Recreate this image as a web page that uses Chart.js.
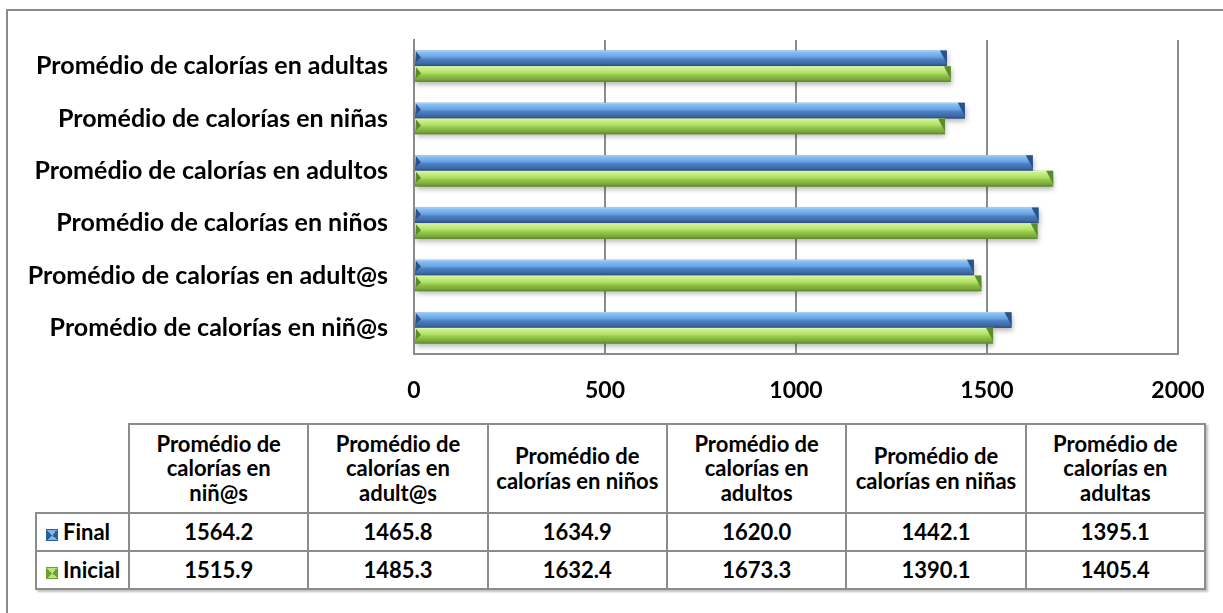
<!DOCTYPE html>
<html>
<head>
<meta charset="utf-8">
<script src="https://cdn.jsdelivr.net/npm/chart.js@4.4.1/dist/chart.umd.min.js"></script>
<style>
  html, body { margin: 0; padding: 0; background: #fff; overflow: hidden; }
  body { width: 1223px; height: 613px; position: relative; font-family: Lato, "Open Sans", sans-serif; }
  #frame { position: absolute; left: 6px; top: 9px; width: 1400px; height: 900px; border: 2px solid #8a8a8a; box-sizing: border-box; }
  #chartBox { position: absolute; left: 0; top: 0; width: 1223px; height: 410px; }
  #dataTable {
    position: absolute; left: 35px; top: 423px; width: 1171px;
    border-collapse: collapse; table-layout: fixed;
    font: 700 22px Lato, "Open Sans", sans-serif; color: #000;
    box-shadow: 2px 2px 2px rgba(0,0,0,0.25);
  }
  #dataTable td, #dataTable th { border: 2px solid #8c8c8c; text-align: center; padding: 0 4px; font-weight: 700; line-height: 24.5px; white-space: nowrap; }
  #dataTable th.corner { border-top: hidden; border-left: hidden; }
  #dataTable tr.head { height: 89px; }
  #dataTable tr.row { height: 38px; }
  #dataTable td.name { text-align: left; padding-left: 9px; }
  .key { display: inline-block; width: 12px; height: 12px; margin-right: 5px; vertical-align: -1px; box-sizing: border-box; }
</style>
</head>
<body>
<div id="frame"></div>
<div id="chartBox"><canvas id="chart" width="1223" height="410"></canvas></div>
<table id="dataTable"></table>
<script>
// Categories in table order (bottom to top in the bar chart)
const categories = [
  "Promédio de calorías en niñ@s",
  "Promédio de calorías en adult@s",
  "Promédio de calorías en niños",
  "Promédio de calorías en adultos",
  "Promédio de calorías en niñas",
  "Promédio de calorías en adultas"
];
const seriesNames = ["Final", "Inicial"];
const finalValues = [1564.2, 1465.8, 1634.9, 1620.0, 1442.1, 1395.1];
const inicialValues = [1515.9, 1485.3, 1632.4, 1673.3, 1390.1, 1405.4];
const xTicks = [0, 500, 1000, 1500, 2000];
// header cells whose last word drops onto a third line
const headerThreeLines = [true, true, false, true, false, true];

// Glossy vertical gradients for each series
const palettes = [
  { base: '#4b80c2',
    stops: [[0, '#b4dafc'], [0.1, '#8ac0f3'], [0.42, '#66a2e4'], [0.56, '#4b80c2'], [0.85, '#3d67a3'], [1, '#2b4c7c']],
    dark: '#2a5289', key: ['#2f5d9a', '#7db4ee'] },
  { base: '#95c94c',
    stops: [[0, '#e6fcc0'], [0.1, '#cbf28e'], [0.42, '#b0e166'], [0.56, '#95c94c'], [0.85, '#7aa73b'], [1, '#5a8528']],
    dark: '#5d8a2a', key: ['#6f9e33', '#b6e774'] }
];

const seriesValues = [finalValues, inicialValues];

// Repaints each bar drawn by Chart.js with a bevelled, glossy look
const glossyBars = {
  id: 'glossyBars',
  afterDatasetsDraw(chart) {
    const ctx = chart.ctx;
    chart.data.datasets.forEach((ds, i) => {
      chart.getDatasetMeta(i).data.forEach(el => {
        const top = el.y - el.height / 2, h = el.height;
        const left = Math.min(el.base, el.x), w = Math.abs(el.x - el.base);
        const g = ctx.createLinearGradient(0, top, 0, top + h);
        palettes[i].stops.forEach(([o, c]) => g.addColorStop(o, c));
        ctx.save();
        ctx.shadowColor = 'rgba(0,0,0,0.28)';
        ctx.shadowBlur = 5;
        ctx.shadowOffsetX = 1;
        ctx.shadowOffsetY = 3;
        ctx.fillStyle = g;
        ctx.fillRect(left, top, w, h);
        ctx.restore();

        ctx.save();
        ctx.fillStyle = palettes[i].dark;
        // bevelled end of the bar
        ctx.beginPath();
        ctx.moveTo(el.x - 7, top);
        ctx.lineTo(el.x, top);
        ctx.lineTo(el.x, top + h * 0.85);
        ctx.closePath();
        ctx.fill();
        // bevel at the start of the bar
        ctx.beginPath();
        ctx.moveTo(el.base + 1, top + 1);
        ctx.lineTo(el.base + 6, top + h * 0.45);
        ctx.lineTo(el.base + 1, top + h * 0.75);
        ctx.closePath();
        ctx.fill();
        ctx.restore();
      });
    });
  }
};

const yFont = { family: 'Lato', weight: 'bold', size: 25 };
const xFont = { family: 'Lato', weight: 'bold', size: 23 };

new Chart(document.getElementById('chart'), {
  type: 'bar',
  data: {
    labels: categories,
    datasets: seriesNames.map((name, i) => ({
      label: name,
      data: seriesValues[i],
      backgroundColor: palettes[i].base,
      borderWidth: 0,
      barPercentage: 1,
      categoryPercentage: 0.6
    }))
  },
  options: {
    indexAxis: 'y',
    responsive: false,
    animation: false,
    devicePixelRatio: 1,
    layout: { padding: { top: 40, right: 45, left: 0, bottom: 0 } },
    plugins: { legend: { display: false }, tooltip: { enabled: false } },
    scales: {
      x: {
        min: xTicks[0],
        max: xTicks[xTicks.length - 1],
        afterBuildTicks(scale) { scale.ticks = xTicks.map(v => ({ value: v })); },
        grid: { color: '#8c8c8c', lineWidth: 2, drawTicks: false },
        border: { display: true, color: '#8c8c8c', width: 2 },
        ticks: { font: xFont, color: '#000', padding: 23, callback: v => String(v) },
        afterFit(scale) {
          scale.height = 56;
          scale.paddingLeft = 0;
          scale.paddingRight = 0;
        }
      },
      y: {
        reverse: true,
        grid: { display: false },
        border: { display: true, color: '#8c8c8c', width: 2 },
        ticks: { font: yFont, color: '#000', padding: 18 },
        afterFit(scale) { scale.width = 414; }
      }
    }
  },
  plugins: [glossyBars]
});

// Data table under the chart
const table = document.getElementById('dataTable');
let html = '<colgroup><col style="width:93px">' + categories.map(() => '<col>').join('') + '</colgroup>';
html += '<tr class="head"><th class="corner"></th>' + categories.map((c, i) => {
  const words = c.split(' ');
  const first = words.slice(0, 2).join(' ');
  const rest = words.slice(2);
  const body = headerThreeLines[i]
    ? rest.slice(0, -1).join(' ') + '<br>' + rest[rest.length - 1]
    : rest.join(' ');
  return '<th>' + first + '<br>' + body + '</th>';
}).join('') + '</tr>';
seriesNames.forEach((name, i) => {
  const k = palettes[i].key;
  const keyStyle = 'background:conic-gradient(from 45deg,' + k[0] + ' 0 25%,' + k[1] + ' 0 50%,' + k[0] + ' 0 75%,' + k[1] + ' 0);border:1px solid ' + k[0];
  html += '<tr class="row"><td class="name"><span class="key" style="' + keyStyle + '"></span>' + name + '</td>' +
    seriesValues[i].map(v => '<td>' + v.toFixed(1) + '</td>').join('') + '</tr>';
});
table.innerHTML = html;
</script>
</body>
</html>
